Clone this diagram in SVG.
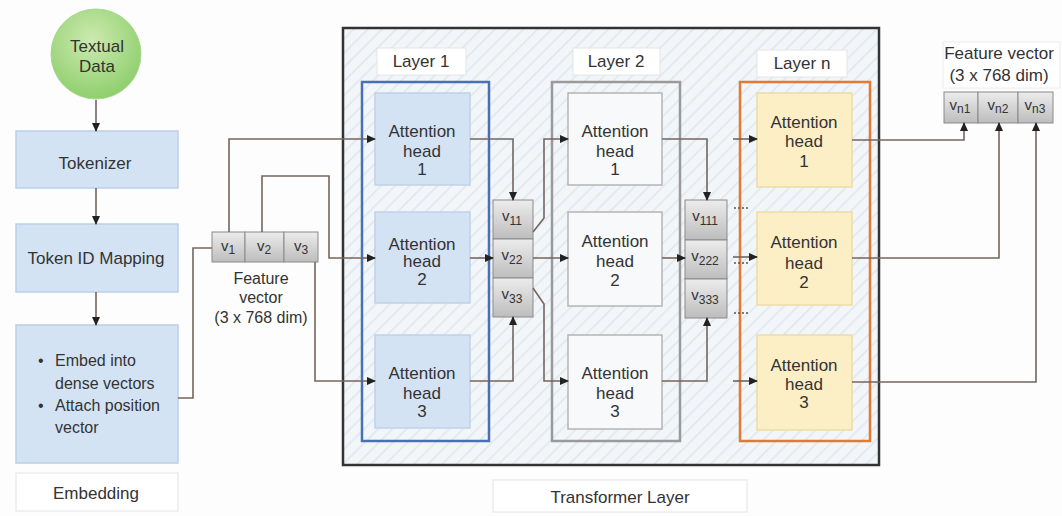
<svg xmlns="http://www.w3.org/2000/svg" width="1062" height="516" viewBox="0 0 1062 516">
<style>
text{font-family:"Liberation Sans",Arial,sans-serif;fill:#333;font-size:17px}
.c{text-anchor:middle}
.b{font-size:16px}
.v{font-size:15px}
.s{font-size:12px}
.blue{fill:#d4e3f3;stroke:#bcd0e6;stroke-width:1.5}
.l1h{fill:#d3e3f3;stroke:#c0d2e6;stroke-width:1.5}
.l2h{fill:#f8f9fb;stroke:#b4b4b4;stroke-width:1.5}
.lnh{fill:#fcefc6;stroke:#ecdca6;stroke-width:1.5}
.lab{fill:#fff;stroke:#e4e4e4;stroke-width:1}
.cell{fill:url(#gg);stroke:#8a8a8a;stroke-width:1}
.ln{fill:none;stroke:#75655f;stroke-width:1.6}
.a{marker-end:url(#ah)}
.dot{fill:none;stroke:#555;stroke-width:1.3;stroke-dasharray:2 2}
</style>
<defs>
<marker id="ah" markerWidth="9" markerHeight="8" refX="8" refY="4" orient="auto" markerUnits="userSpaceOnUse"><path d="M0,0 L9,4 L0,8 z" fill="#222"/></marker>
<radialGradient id="gc" cx="45%" cy="35%" r="65%"><stop offset="0" stop-color="#cdeab0"/><stop offset="1" stop-color="#8fcf6e"/></radialGradient>
<linearGradient id="gg" x1="0" y1="0" x2="0" y2="1"><stop offset="0" stop-color="#ececec"/><stop offset="1" stop-color="#bdbdbd"/></linearGradient>
<pattern id="hatch" width="10" height="10" patternUnits="userSpaceOnUse" patternTransform="rotate(45)"><rect width="10" height="10" fill="#f3f6f9"/><line x1="0" y1="0" x2="0" y2="10" stroke="#dde6ef" stroke-width="3"/></pattern>
</defs>
<rect width="1062" height="516" fill="#fdfdfd"/>

<g id="transformer">
<rect x="343" y="28" width="536" height="437" fill="url(#hatch)" stroke="#333" stroke-width="2.5"/>
</g>
<g id="transformer-label"><rect x="493" y="480" width="254" height="32" class="lab"/><text x="620" y="503" class="c">Transformer Layer</text></g>

<g id="textual-data"><circle cx="96" cy="54" r="45" fill="url(#gc)" stroke="#a6d98c" stroke-width="1"/><text x="97" y="52" class="c">Textual</text><text x="97" y="72" class="c">Data</text></g>
<g id="tokenizer"><rect x="16" y="131" width="162" height="57" class="blue"/><text x="95" y="169" class="c">Tokenizer</text></g>
<g id="token-id"><rect x="16" y="224" width="162" height="68" class="blue"/><text x="96" y="264" class="c">Token ID Mapping</text></g>
<g id="embed"><rect x="16" y="325" width="162" height="138" class="blue"/>
<text x="38" y="366" class="b">•</text><text x="55" y="366" class="b">Embed into</text><text x="55" y="389" class="b">dense vectors</text>
<text x="38" y="411" class="b">•</text><text x="55" y="411" class="b">Attach position</text><text x="55" y="433" class="b">vector</text></g>
<g id="embedding-label"><rect x="16" y="473" width="162" height="38" class="lab"/><text x="96" y="499" class="c">Embedding</text></g>

<g id="input-vector">
<rect x="212" y="232" width="33" height="30" class="cell"/><rect x="245" y="232" width="39" height="30" class="cell"/><rect x="284" y="232" width="34" height="30" class="cell"/>
<text x="228" y="251" class="c v">v<tspan class="s" dy="3">1</tspan></text>
<text x="264" y="251" class="c v">v<tspan class="s" dy="3">2</tspan></text>
<text x="301" y="251" class="c v">v<tspan class="s" dy="3">3</tspan></text>
<text x="261" y="284" class="c b">Feature</text><text x="261" y="303" class="c b">vector</text><text x="261" y="323" class="c b">(3 x 768 dim)</text>
</g>

<g id="layer1">
<rect x="377" y="48" width="89" height="27" class="lab"/><text x="421" y="67" class="c">Layer 1</text>
<rect x="362" y="82" width="127" height="359" fill="none" stroke="#4a6fb5" stroke-width="2.5"/>
<g id="l1h1"><rect x="375" y="93" width="95" height="92" class="l1h"/><text x="422" y="137" class="c">Attention</text><text x="422" y="157" class="c">head</text><text x="422" y="175" class="c">1</text></g>
<g id="l1h2"><rect x="375" y="212" width="95" height="91" class="l1h"/><text x="422" y="250" class="c">Attention</text><text x="422" y="267" class="c">head</text><text x="422" y="285" class="c">2</text></g>
<g id="l1h3"><rect x="375" y="335" width="95" height="93" class="l1h"/><text x="422" y="379" class="c">Attention</text><text x="422" y="399" class="c">head</text><text x="422" y="417" class="c">3</text></g>
</g>

<g id="layer2">
<rect x="573" y="48" width="87" height="27" class="lab"/><text x="616" y="67" class="c">Layer 2</text>
<rect x="552" y="82" width="128" height="359" fill="none" stroke="#9a9a9a" stroke-width="2.5"/>
<g id="l2h1"><rect x="568" y="93" width="94" height="92" class="l2h"/><text x="615" y="137" class="c">Attention</text><text x="615" y="157" class="c">head</text><text x="615" y="175" class="c">1</text></g>
<g id="l2h2"><rect x="568" y="212" width="94" height="94" class="l2h"/><text x="615" y="247" class="c">Attention</text><text x="615" y="267" class="c">head</text><text x="615" y="286" class="c">2</text></g>
<g id="l2h3"><rect x="568" y="335" width="94" height="94" class="l2h"/><text x="615" y="379" class="c">Attention</text><text x="615" y="399" class="c">head</text><text x="615" y="417" class="c">3</text></g>
</g>

<g id="layern">
<rect x="757" y="50" width="90" height="27" class="lab"/><text x="802" y="69" class="c">Layer n</text>
<rect x="740" y="82" width="130" height="359" fill="none" stroke="#e07a35" stroke-width="2.5"/>
<g id="lnh1"><rect x="757" y="93" width="95" height="94" class="lnh"/><text x="804" y="128" class="c">Attention</text><text x="804" y="147" class="c">head</text><text x="804" y="167" class="c">1</text></g>
<g id="lnh2"><rect x="757" y="212" width="95" height="93" class="lnh"/><text x="804" y="248" class="c">Attention</text><text x="804" y="269" class="c">head</text><text x="804" y="288" class="c">2</text></g>
<g id="lnh3"><rect x="757" y="335" width="95" height="95" class="lnh"/><text x="804" y="371" class="c">Attention</text><text x="804" y="390" class="c">head</text><text x="804" y="408" class="c">3</text></g>
</g>

<g id="vec-l1">
<rect x="493" y="200" width="40" height="39" class="cell"/><rect x="493" y="239" width="40" height="39" class="cell"/><rect x="493" y="278" width="40" height="39" class="cell"/>
<text x="512" y="221" class="c v">v<tspan class="s" dy="4">11</tspan></text>
<text x="512" y="260" class="c v">v<tspan class="s" dy="4">22</tspan></text>
<text x="512" y="299" class="c v">v<tspan class="s" dy="4">33</tspan></text>
</g>
<g id="vec-l2">
<rect x="685" y="200" width="42" height="40" class="cell"/><rect x="685" y="240" width="42" height="39" class="cell"/><rect x="685" y="279" width="42" height="39" class="cell"/>
<text x="705" y="221" class="c v">v<tspan class="s" dy="4">111</tspan></text>
<text x="705" y="261" class="c v">v<tspan class="s" dy="4">222</tspan></text>
<text x="705" y="300" class="c v">v<tspan class="s" dy="4">333</tspan></text>
</g>

<g id="output-vector">
<rect x="943" y="42" width="117" height="46" fill="#fff" stroke="#ececec"/>
<text x="999" y="59" class="c">Feature vector</text><text x="999" y="81" class="c">(3 x 768 dim)</text>
<rect x="944" y="92" width="34" height="31" class="cell"/><rect x="978" y="92" width="40" height="31" class="cell"/><rect x="1018" y="92" width="35" height="31" class="cell"/>
<text x="960" y="110" class="c v">v<tspan class="s" dy="3">n1</tspan></text>
<text x="998" y="110" class="c v">v<tspan class="s" dy="3">n2</tspan></text>
<text x="1035" y="110" class="c v">v<tspan class="s" dy="3">n3</tspan></text>
</g>

<g id="connectors">
<path class="ln a" d="M96,100 V131"/>
<path class="ln a" d="M96,188 V224"/>
<path class="ln a" d="M96,292 V325"/>
<path class="ln" d="M178,398 H193 V248 H212"/>
<path class="ln a" d="M229,232 V139 H375"/>
<path class="ln a" d="M262,232 V176 H329 V258 H375"/>
<path class="ln a" d="M315,262 V381 H375"/>
<path class="ln a" d="M470,139 H513 V200"/>
<path class="ln a" d="M470,258 H493"/>
<path class="ln a" d="M470,381 H513 V317"/>
<path class="ln a" d="M533,232 L544,218 V139 H568"/>
<path class="ln a" d="M533,258 H568"/>
<path class="ln a" d="M533,288 L544,304 V381 H568"/>
<path class="ln a" d="M662,139 H707 V200"/>
<path class="ln a" d="M662,258 H685"/>
<path class="ln a" d="M662,381 H707 V318"/>
<path class="ln a" d="M733,139 H757"/>
<path class="ln a" d="M733,257 H757"/>
<path class="ln a" d="M733,381 H757"/>
<path class="dot" d="M734,208 H748"/>
<path class="dot" d="M734,263 H748"/>
<path class="dot" d="M734,313 H748"/>
<path class="ln a" d="M852,140 H964 V123"/>
<path class="ln a" d="M852,258 H999 V123"/>
<path class="ln a" d="M852,382 H1036 V123"/>
</g>
</svg>
